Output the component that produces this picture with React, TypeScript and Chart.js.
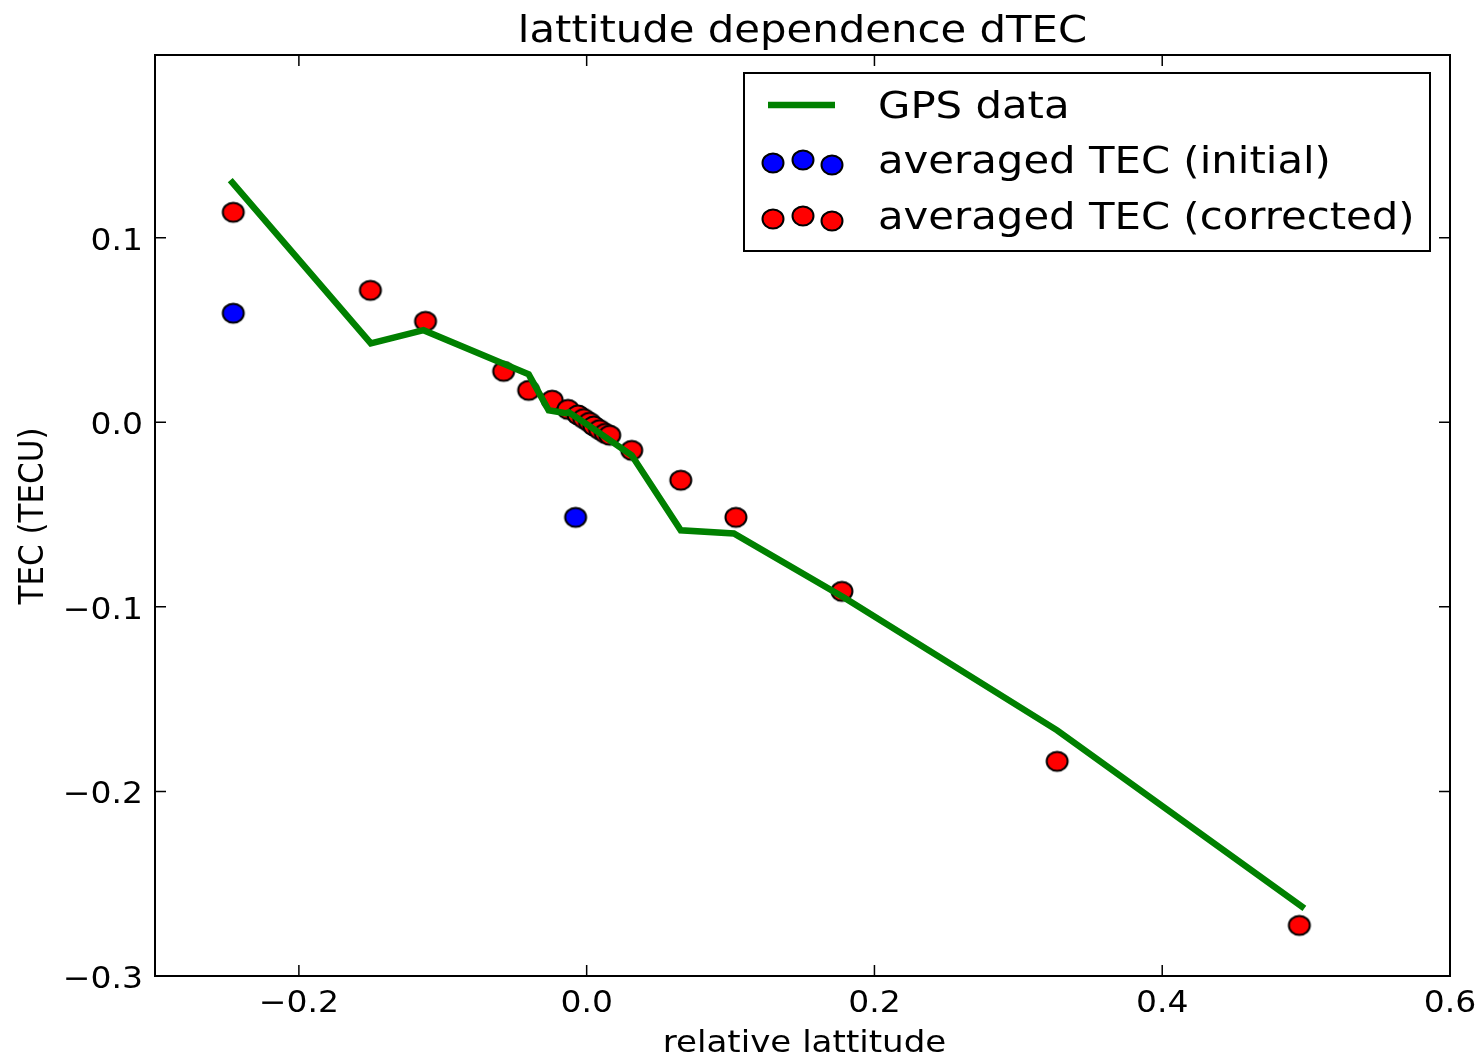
import React, { useEffect, useRef } from "react";
import { Chart, registerables } from "chart.js";

Chart.register(...registerables);

const TITLE = "lattitude dependence dTEC";
const X_LABEL = "relative lattitude";
const Y_LABEL = "TEC (TECU)";

const X_TICKS = [-0.2, 0.0, 0.2, 0.4, 0.6];
const Y_TICKS = [-0.3, -0.2, -0.1, 0.0, 0.1];

const GPS_X = [-0.2477, -0.15, -0.1134, -0.0403, -0.0264, -0.0146, -0.0125, 0.0, 0.0313, 0.0654, 0.1023, 0.1788, 0.327, 0.4988];
const GPS_Y = [0.1312, 0.0428, 0.0499, 0.026, 0.0065, 0.0049, 0.0054, -0.001, -0.0179, -0.0585, -0.0602, -0.0949, -0.1669, -0.2634];

const INIT_X = [-0.2456, -0.0077];
const INIT_Y = [0.0591, -0.0515];

const CORR_X = [-0.2456, -0.1503, -0.112, -0.0577, -0.0403, -0.024, -0.013, -0.006, -0.002, 0.002, 0.005, 0.009, 0.013, 0.016, 0.0313, 0.0654, 0.1037, 0.1774, 0.327, 0.4953];
const CORR_Y = [0.1138, 0.0715, 0.0547, 0.0276, 0.0173, 0.012, 0.007, 0.004, 0.002, 0.0, -0.002, -0.004, -0.006, -0.007, -0.0152, -0.0314, -0.0515, -0.0916, -0.1837, -0.2726];

const FONT = "'DejaVu Sans', sans-serif";
const SX = 1.1;

const fmt = (v: number) => (v < -1e-9 ? "\u2212" : "") + Math.abs(v).toFixed(1);

function makeDot(color: string) {
  const c = document.createElement("canvas");
  c.width = 26;
  c.height = 24;
  const g = c.getContext("2d")!;
  g.beginPath();
  g.ellipse(13, 12, 10.5, 9.5, 0, 0, Math.PI * 2);
  g.fillStyle = color;
  g.fill();
  g.lineWidth = 2;
  g.strokeStyle = "#000";
  g.stroke();
  return c;
}

function text(ctx: any, s: string, x: number, y: number, size: number, align: string, rotate = false) {
  ctx.save();
  ctx.translate(x, y);
  ctx.scale(SX, 1);
  if (rotate) ctx.rotate(-Math.PI / 2);
  ctx.font = `${size}px ${FONT}`;
  ctx.textAlign = align;
  ctx.textBaseline = "alphabetic";
  ctx.fillStyle = "#000";
  ctx.fillText(s, 0, 0);
  ctx.restore();
}

const frame = {
  id: "mplFrame",
  afterDraw(chart: any) {
    const ctx = chart.ctx;
    const a = chart.chartArea;
    const xs = chart.scales.x;
    const ys = chart.scales.y;
    ctx.save();
    ctx.strokeStyle = "#000";
    ctx.lineWidth = 2;
    ctx.strokeRect(a.left, a.top, a.right - a.left, a.bottom - a.top);
    const L = 11;
    ctx.lineWidth = 1.5;
    ctx.beginPath();
    for (const v of X_TICKS) {
      const p = xs.getPixelForValue(v);
      ctx.moveTo(p, a.bottom);
      ctx.lineTo(p, a.bottom - L);
      ctx.moveTo(p, a.top);
      ctx.lineTo(p, a.top + L);
    }
    for (const v of Y_TICKS) {
      const p = ys.getPixelForValue(v);
      ctx.moveTo(a.left, p);
      ctx.lineTo(a.left + L, p);
      ctx.moveTo(a.right, p);
      ctx.lineTo(a.right - L, p);
    }
    ctx.stroke();
    ctx.restore();

    for (const v of X_TICKS) text(ctx, fmt(v), xs.getPixelForValue(v), a.bottom + 36, 30, "center");
    for (const v of Y_TICKS) text(ctx, fmt(v), a.left - 12, ys.getPixelForValue(v) + 12, 30, "right");

    text(ctx, TITLE, (a.left + a.right) / 2, 42, 38, "center");
    text(ctx, X_LABEL, (a.left + a.right) / 2 + 2, 1052, 31, "center");
    text(ctx, Y_LABEL, 43, 516, 31, "center", true);

    // legend
    ctx.save();
    const bx = 744, by = 73, bw = 686, bh = 178;
    ctx.fillStyle = "#fff";
    ctx.fillRect(bx, by, bw, bh);
    ctx.strokeStyle = "#000";
    ctx.lineWidth = 2;
    ctx.strokeRect(bx, by, bw, bh);
    const ds = chart.data.datasets;
    ctx.strokeStyle = ds[0].borderColor;
    ctx.lineWidth = 6.5;
    ctx.beginPath();
    ctx.moveTo(768, 105);
    ctx.lineTo(835, 105);
    ctx.stroke();
    const dots = [[773, 2], [803, -1], [832, 4]];
    const rows = [[ds[2], 161], [ds[1], 217]];
    for (const [d, cy] of rows as any) {
      for (const [dx, dy] of dots) {
        ctx.drawImage(d.pointStyle, dx - 13, cy + dy - 12);
      }
    }
    ctx.restore();
    text(ctx, ds[0].label, 878, 118, 38, "left");
    text(ctx, ds[2].label, 878, 173, 38, "left");
    text(ctx, ds[1].label, 878, 229, 38, "left");
  },
};

export default function App() {
  const ref = useRef<HTMLCanvasElement>(null);
  useEffect(() => {
    document.body.style.margin = "0";
    const chart = new Chart(ref.current!, {
      type: "scatter",
      data: {
        datasets: [
          {
            label: "GPS data",
            data: GPS_X.map((x, i) => ({ x, y: GPS_Y[i] })),
            showLine: true,
            borderColor: "#008000",
            backgroundColor: "#008000",
            borderWidth: 6.5,
            pointRadius: 0,
            order: 0,
          } as any,
          {
            label: "averaged TEC (corrected)",
            data: CORR_X.map((x, i) => ({ x, y: CORR_Y[i] })),
            pointStyle: makeDot("#ff0000"),
            backgroundColor: "#ff0000",
            borderColor: "#000",
            pointRadius: 10,
            order: 1,
          },
          {
            label: "averaged TEC (initial)",
            data: INIT_X.map((x, i) => ({ x, y: INIT_Y[i] })),
            pointStyle: makeDot("#0000ff"),
            backgroundColor: "#0000ff",
            borderColor: "#000",
            pointRadius: 10,
            order: 2,
          },
        ],
      },
      options: {
        animation: false,
        responsive: false,
        layout: { padding: { top: 55, right: 30, left: 0, bottom: 0 } },
        plugins: { legend: { display: false }, tooltip: { enabled: false }, title: { display: false } },
        scales: {
          x: {
            type: "linear",
            min: -0.3,
            max: 0.6,
            afterBuildTicks: (s: any) => {
              s.ticks = X_TICKS.map((v) => ({ value: v }));
            },
            afterFit: (s: any) => {
              s.height = 82;
            },
            grid: { display: false, drawTicks: false },
            border: { display: false },
            ticks: { display: false },
          },
          y: {
            type: "linear",
            min: -0.3,
            max: 0.199,
            afterBuildTicks: (s: any) => {
              s.ticks = Y_TICKS.map((v) => ({ value: v }));
            },
            afterFit: (s: any) => {
              s.width = 155;
            },
            grid: { display: false, drawTicks: false },
            border: { display: false },
            ticks: { display: false },
          },
        },
      },
      plugins: [frame],
    });
    return () => chart.destroy();
  }, []);
  return (
    <div style={{ width: 1480, height: 1058 }}>
      <canvas ref={ref} width={1480} height={1058} style={{ display: "block" }} />
    </div>
  );
}
